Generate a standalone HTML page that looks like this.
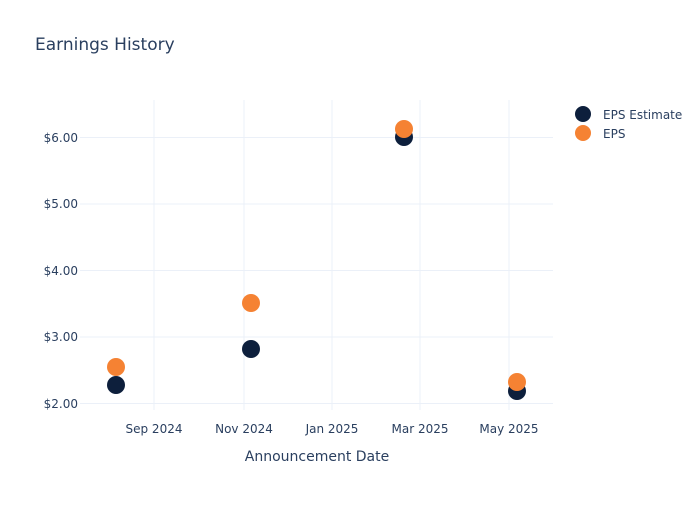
<!DOCTYPE html>
<html><head><style>
body{margin:0;background:#fff;}
svg text{font-family:"DejaVu Sans","Liberation Sans",sans-serif;fill:#2a3f5f;}
</style></head><body>
<svg width="700" height="500" xmlns="http://www.w3.org/2000/svg">
<rect width="700" height="500" fill="#fff"/>
<g stroke="#ebf0f8" stroke-width="1">
<line x1="154" y1="100" x2="154" y2="410"/>
<line x1="244" y1="100" x2="244" y2="410"/>
<line x1="332" y1="100" x2="332" y2="410"/>
<line x1="420" y1="100" x2="420" y2="410"/>
<line x1="509" y1="100" x2="509" y2="410"/>
<line x1="80" y1="137.5" x2="553" y2="137.5"/>
<line x1="80" y1="204" x2="553" y2="204"/>
<line x1="80" y1="270.5" x2="553" y2="270.5"/>
<line x1="80" y1="337" x2="553" y2="337"/>
<line x1="80" y1="403.5" x2="553" y2="403.5"/>
</g>
<text x="35" y="50" font-size="17">Earnings History</text>
<g font-size="12" text-anchor="end">
<text x="78" y="142">$6.00</text>
<text x="78" y="208">$5.00</text>
<text x="78" y="275">$4.00</text>
<text x="78" y="341">$3.00</text>
<text x="78" y="408">$2.00</text>
</g>
<g font-size="12" text-anchor="middle">
<text x="154" y="433">Sep 2024</text>
<text x="244" y="433">Nov 2024</text>
<text x="332" y="433">Jan 2025</text>
<text x="420" y="433">Mar 2025</text>
<text x="509" y="433">May 2025</text>
</g>
<text x="317" y="461" font-size="14" text-anchor="middle">Announcement Date</text>
<g fill="#0d1f3c">
<circle cx="116" cy="385" r="9"/>
<circle cx="251" cy="349" r="9"/>
<circle cx="404" cy="137" r="9"/>
<circle cx="517" cy="391" r="9"/>
</g>
<g fill="#f58233">
<circle cx="116" cy="367" r="9"/>
<circle cx="251" cy="303" r="9"/>
<circle cx="404" cy="129" r="9"/>
<circle cx="517" cy="382" r="9"/>
</g>
<circle cx="583" cy="114" r="8" fill="#0d1f3c"/>
<circle cx="583" cy="133" r="8" fill="#f58233"/>
<text x="603" y="119" font-size="12">EPS Estimate</text>
<text x="603" y="138" font-size="12">EPS</text>
</svg>
</body></html>
